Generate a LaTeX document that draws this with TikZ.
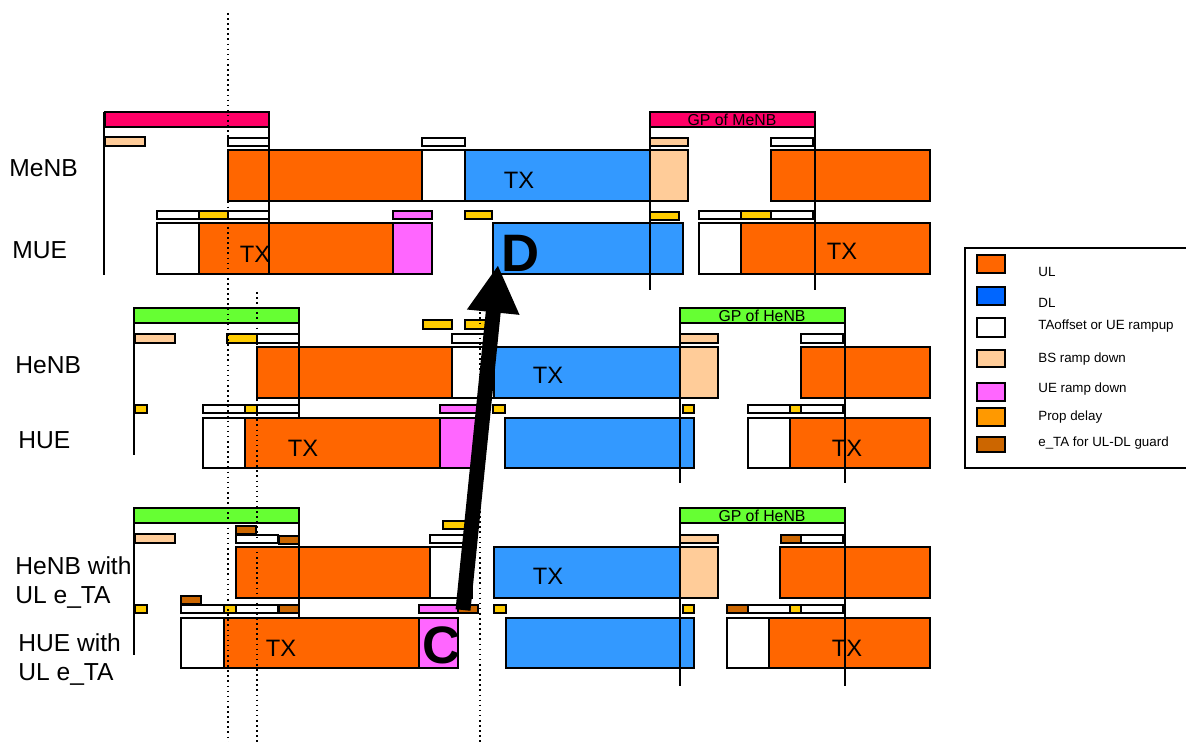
\documentclass[tikz,border=0pt]{standalone}
\usepackage{fontspec}
\setmainfont{Liberation Sans}
\usetikzlibrary{arrows.meta}

\definecolor{ulorange}{HTML}{FF6600}
\definecolor{dlblue}{HTML}{3399FF}
\definecolor{dlkey}{HTML}{0066FF}
\definecolor{bsramp}{HTML}{FFCC99}
\definecolor{ueramp}{HTML}{FF66FF}
\definecolor{propdly}{HTML}{FFCC00}
\definecolor{propkey}{HTML}{FF9900}
\definecolor{etabrown}{HTML}{CC6600}
\definecolor{gpmenb}{HTML}{FF0066}
\definecolor{gphenb}{HTML}{66FF33}

\begin{document}
\begin{tikzpicture}[x=0.02cm, y=-0.02cm,
    slot/.style={draw=black, line width=1pt},
    ul/.style={slot, fill=ulorange},
    dl/.style={slot, fill=dlblue},
    taoff/.style={slot, fill=white},
    bsdown/.style={slot, fill=bsramp},
    uedown/.style={slot, fill=ueramp},
    prop/.style={slot, fill=propdly},
    eta/.style={slot, fill=etabrown},
    tline/.style={line width=1.1pt},
    guideline/.style={dotted, line width=0.9pt},
    rowlabel/.style={anchor=base west, inner sep=0pt, align=left, font=\fontsize{14}{16.5}\selectfont},
    txlabel/.style={inner sep=0pt, font=\fontsize{13.5}{16}\selectfont},
    gplabel/.style={inner sep=0pt, font=\fontsize{9}{10}\selectfont},
    bigletter/.style={inner sep=0pt, font=\fontsize{30}{32}\selectfont\bfseries},
    keytext/.style={anchor=base west, inner sep=0pt, font=\fontsize{7.6}{9}\selectfont},
    bigarrow/.style={line width=8.5pt, -{Triangle[width=28pt, length=27pt]}}
]
    \useasboundingbox (0,0) rectangle (1186,742);

    % Row labels
    \node[rowlabel] (lmenb) at (9,177) {MeNB};
    \node[rowlabel] (lmue) at (12,259) {MUE};
    \node[rowlabel] (lhenb) at (15,374) {HeNB};
    \node[rowlabel] (lhue) at (18,449) {HUE};
    \node[rowlabel] (lhenbeta) at (15,603) {HeNB with\\UL e\_TA};
    \node[rowlabel] (lhueeta) at (18,680) {HUE with\\UL e\_TA};

    % GP bars
    \draw[slot, fill=gpmenb] (105,112) rectangle (269,127);
    \draw[slot, fill=gpmenb] (650,112) rectangle (815,127);
    \node[gplabel] (gp1) at (732,120) {GP of MeNB};
    \foreach \y in {308,508} {
        \draw[slot, fill=gphenb] (134,\y) rectangle (299,\y+15);
        \draw[slot, fill=gphenb] (680,\y) rectangle (845,\y+15);
    }
    \node[gplabel] (gp2) at (762,316) {GP of HeNB};
    \node[gplabel] (gp3) at (762,516) {GP of HeNB};

    % UL
    \foreach \a/\b/\c/\d in {228/150/422/201, 771/150/930/201, 199/223/393/274, 741/223/930/274,
        257/347/452/398, 801/347/930/398, 245/418/440/468, 790/418/930/468,
        236/547/430/598, 780/547/930/598, 224/618/419/668, 769/618/930/668}
        \draw[ul] (\a,\b) rectangle (\c,\d);

    % DL
    \foreach \a/\b/\c/\d in {465/150/650/201, 493/223/683/274, 494/347/680/398,
        505/418/694/468, 494/547/680/598, 506/618/694/668}
        \draw[dl] (\a,\b) rectangle (\c,\d);

    % TAoffset or UE rampup
    \foreach \a/\b/\c/\d in {422/150/465/201, 157/223/199/274, 699/223/741/274, 452/347/494/398,
        203/418/245/468, 748/418/790/468, 430/547/472/598, 181/618/224/668, 727/618/769/668,
        228/138/269/146, 422/138/465/146, 771/138/813/146,
        157/211/199/219, 228/211/269/219, 699/211/741/219, 771/211/813/219,
        257/334/299/343, 452/334/494/343, 801/334/843/343,
        203/405/245/413, 257/405/299/413, 748/405/790/413, 801/405/843/413,
        236/535/278/543, 430/535/472/543, 801/535/843/543,
        181/605/224/613, 236/605/278/613, 748/605/790/613, 801/605/843/613}
        \draw[taoff] (\a,\b) rectangle (\c,\d);

    % BS ramp down
    \foreach \a/\b/\c/\d in {105/137/145/146, 650/138/688/146, 650/150/688/201,
        135/334/175/343, 680/334/718/343, 680/347/718/398,
        135/534/175/543, 680/535/718/543, 680/547/718/598}
        \draw[bsdown] (\a,\b) rectangle (\c,\d);

    % UE ramp down
    \foreach \a/\b/\c/\d in {393/211/432/219, 393/223/432/274, 440/405/478/413,
        440/418/478/468, 419/605/458/613, 419/618/458/668}
        \draw[uedown] (\a,\b) rectangle (\c,\d);

    % Prop delay
    \foreach \a/\b/\c/\d in {199/211/228/219, 465/211/492/219, 650/212/679/220, 741/211/771/219,
        423/320/452/329, 465/320/494/329, 227/334/257/343,
        135/405/147/413, 245/405/257/413, 493/405/505/413, 683/405/694/413, 790/405/801/413,
        443/521/472/529, 135/605/147/613, 224/605/236/613, 494/605/506/613,
        683/605/694/613, 790/605/801/613}
        \draw[prop] (\a,\b) rectangle (\c,\d);

    % e_TA for UL-DL guard
    \foreach \a/\b/\c/\d in {236/526/256/534, 279/536/299/544, 181/596/201/604, 279/605/299/613,
        458/605/478/613, 781/535/801/543, 727/605/748/613}
        \draw[eta] (\a,\b) rectangle (\c,\d);

    % Frame lines
    \foreach \x/\ya/\yb in {104/112/275, 269/112/274, 650/112/290, 815/112/290,
        134/308/455, 299/308/417, 680/308/483, 845/308/483,
        134/508/655, 299/508/617, 680/508/686, 845/508/686}
        \draw[tline] (\x,\ya) -- (\x,\yb);

    % Reference instants
    \draw[guideline] (228,13) -- (228,742);
    \draw[guideline] (257,292) -- (257,742);
    \draw[guideline] (480,292) -- (480,742);

    % TX labels
    \foreach \x/\y [count=\i] in {519/180, 255/254, 842/251, 548/375, 303/448, 847/448,
        548/576, 281/648, 847/648}
        \node[txlabel] (tx\i) at (\x,\y) {TX};

    % C and D
    \node[bigletter] (dmark) at (521,253) {D};
    \node[bigletter] (cmark) at (442,645) {C};
    \coordinate (cfoot) at (463,610);
    \coordinate (dtip) at (498,265);
    \draw[bigarrow] (cfoot) -- (dtip);

    % Legend
    \draw[line width=1.1pt] (1190,248) -- (965,248) -- (965,468) -- (1190,468);
    \foreach \ya/\yb/\col/\txt/\yt [count=\i] in {255/273/ulorange/UL/277, 287/305/dlkey/DL/308,
        318/337/white/TAoffset or UE rampup/330, 350/367/bsramp/BS ramp down/363,
        383/401/ueramp/UE ramp down/393, 408/426/propkey/Prop delay/421,
        437/452/etabrown/e\_TA for UL-DL guard/447} {
        \draw[slot, line width=1.3pt, fill=\col] (977,\ya) rectangle (1005,\yb);
        \node[keytext] (key\i) at (1038,\yt) {\txt};
    }
\end{tikzpicture}
\end{document}
